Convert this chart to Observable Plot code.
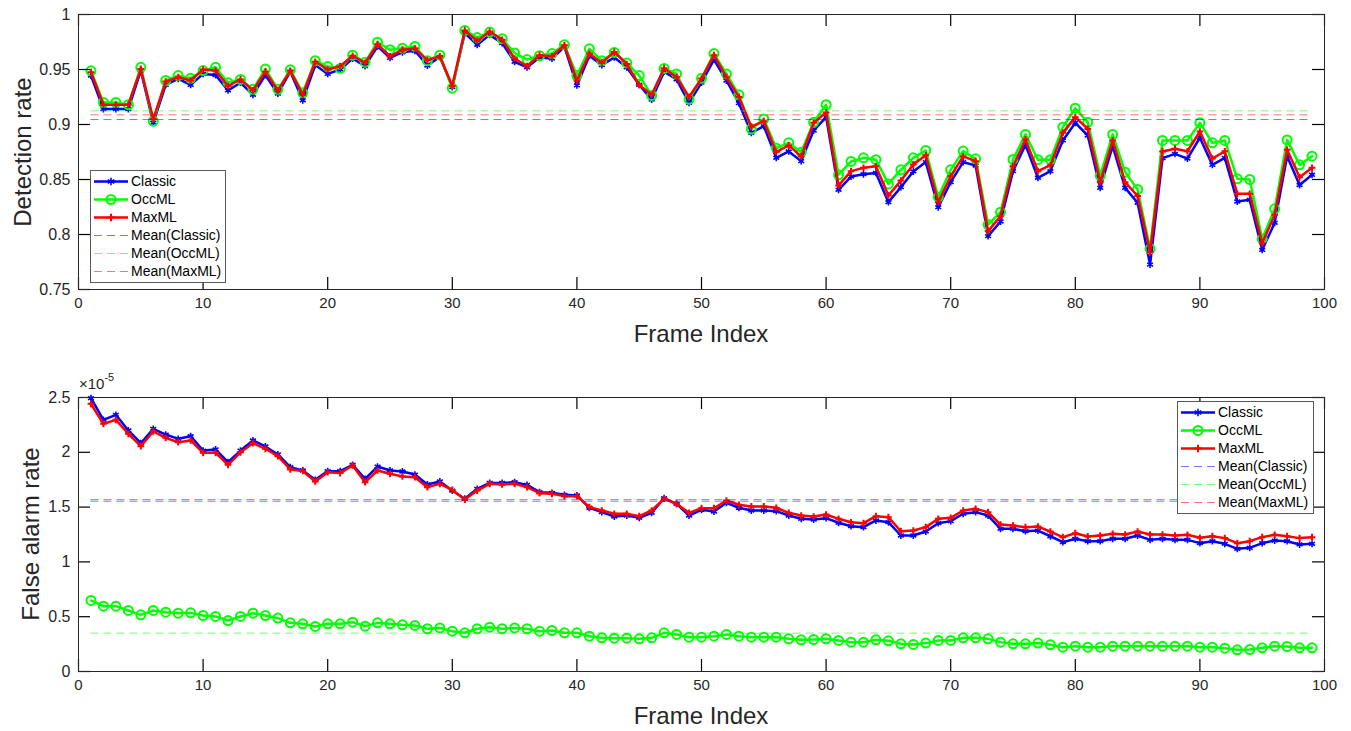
<!DOCTYPE html>
<html>
<head>
<meta charset="utf-8">
<script src="https://cdn.jsdelivr.net/npm/d3@7"></script>
<script src="https://cdn.jsdelivr.net/npm/@observablehq/plot@0.6"></script>
<style>
  body { margin: 0; background: #fff; }
  #wrap { position: relative; width: 1351px; height: 731px; font-family: "Liberation Sans", Arial, sans-serif; color: #262626; }
  .ttl { font-size: 24px; white-space: nowrap; }
</style>
</head>
<body>
<div id="wrap"></div>
<script>
// ---------- data ----------
const frames = d3.range(1, 100);
const xTicks = [0, 10, 20, 30, 40, 50, 60, 70, 80, 90, 100];
const detTicks = [0.75, 0.8, 0.85, 0.9, 0.95, 1];
const faTicks = [0, 0.5, 1, 1.5, 2, 2.5];
const seriesNames = ["Classic", "OccML", "MaxML"];
const meanNames = ["Mean(Classic)", "Mean(OccML)", "Mean(MaxML)"];

const detClassic = [0.9445,0.914,0.914,0.914,0.949,0.9015,0.936,0.9415,0.936,0.946,0.945,0.931,0.938,0.927,0.945,0.928,0.948,0.922,0.954,0.946,0.950,0.960,0.953,0.971,0.9605,0.9657,0.967,0.9536,0.9615,0.934,0.983,0.9724,0.9815,0.974,0.957,0.952,0.961,0.960,0.9705,0.9355,0.9625,0.954,0.961,0.952,0.936,0.9227,0.948,0.941,0.9197,0.938,0.959,0.940,0.9194,0.8924,0.8985,0.8697,0.8755,0.8667,0.8945,0.9067,0.8406,0.8527,0.8548,0.856,0.8294,0.843,0.8573,0.8658,0.8248,0.8476,0.8658,0.8627,0.7985,0.8118,0.8576,0.8815,0.8515,0.8576,0.8855,0.9015,0.890,0.8424,0.8803,0.8424,0.8288,0.7727,0.8694,0.8733,0.869,0.888,0.8633,0.8697,0.830,0.8315,0.786,0.8106,0.8712,0.845,0.8543];
const detOcc = [0.9488,0.920,0.920,0.918,0.952,0.903,0.940,0.9445,0.942,0.949,0.952,0.938,0.941,0.932,0.9505,0.932,0.9497,0.9288,0.958,0.9527,0.951,0.963,0.9567,0.9748,0.968,0.9694,0.971,0.958,0.963,0.933,0.9855,0.979,0.984,0.978,0.965,0.959,0.9625,0.9645,0.9724,0.9445,0.9688,0.958,0.9655,0.956,0.9445,0.9264,0.951,0.946,0.923,0.942,0.9645,0.946,0.927,0.896,0.905,0.8785,0.8833,0.8748,0.902,0.918,0.8543,0.8664,0.8697,0.868,0.846,0.8588,0.8697,0.8764,0.834,0.8588,0.8758,0.8688,0.809,0.8203,0.8682,0.891,0.868,0.868,0.8976,0.9148,0.902,0.8536,0.891,0.8567,0.841,0.787,0.8855,0.8855,0.8855,0.9015,0.8833,0.8855,0.8506,0.850,0.796,0.8233,0.886,0.8633,0.8712];
const detMax = [0.9476,0.918,0.918,0.918,0.9505,0.905,0.939,0.943,0.940,0.950,0.949,0.935,0.941,0.931,0.948,0.931,0.9488,0.927,0.957,0.950,0.953,0.9625,0.956,0.973,0.962,0.968,0.969,0.9585,0.962,0.935,0.9855,0.976,0.9845,0.977,0.960,0.953,0.963,0.962,0.972,0.940,0.9645,0.956,0.966,0.955,0.936,0.927,0.9512,0.943,0.925,0.9418,0.963,0.943,0.925,0.898,0.903,0.875,0.881,0.871,0.9015,0.911,0.8445,0.8576,0.8606,0.862,0.8355,0.849,0.8636,0.872,0.8294,0.853,0.871,0.8667,0.803,0.8167,0.862,0.8864,0.8576,0.863,0.8924,0.9067,0.896,0.8476,0.8855,0.8476,0.835,0.784,0.8755,0.878,0.8757,0.8936,0.869,0.8757,0.837,0.837,0.792,0.818,0.877,0.852,0.8606];
const detMeans = [0.9045, 0.9124, 0.9088];

// false alarm rate, in units of 1e-5
const faClassic = [2.494,2.296,2.342,2.199,2.083,2.214,2.162,2.123,2.147,2.016,2.026,1.91,2.016,2.108,2.053,1.98,1.864,1.834,1.749,1.828,1.828,1.886,1.758,1.87,1.834,1.825,1.797,1.706,1.734,1.651,1.576,1.667,1.721,1.721,1.727,1.703,1.636,1.63,1.612,1.606,1.494,1.454,1.414,1.423,1.402,1.448,1.581,1.53,1.423,1.475,1.46,1.539,1.494,1.469,1.469,1.463,1.423,1.393,1.387,1.399,1.357,1.326,1.317,1.378,1.362,1.241,1.241,1.277,1.353,1.372,1.439,1.454,1.423,1.302,1.302,1.28,1.286,1.234,1.18,1.211,1.189,1.189,1.211,1.211,1.241,1.201,1.211,1.201,1.201,1.171,1.189,1.165,1.119,1.128,1.171,1.195,1.189,1.159,1.165];
const faOcc = [0.648,0.596,0.596,0.557,0.517,0.557,0.541,0.532,0.535,0.511,0.502,0.465,0.502,0.532,0.511,0.487,0.444,0.435,0.411,0.435,0.435,0.45,0.414,0.444,0.435,0.426,0.42,0.39,0.398,0.368,0.353,0.39,0.404,0.39,0.398,0.39,0.368,0.374,0.353,0.353,0.322,0.307,0.304,0.304,0.298,0.307,0.353,0.338,0.313,0.313,0.322,0.338,0.322,0.313,0.313,0.313,0.298,0.289,0.292,0.298,0.283,0.268,0.268,0.289,0.28,0.253,0.247,0.259,0.283,0.283,0.307,0.307,0.298,0.268,0.253,0.253,0.259,0.244,0.222,0.231,0.222,0.222,0.231,0.231,0.231,0.231,0.231,0.231,0.231,0.222,0.222,0.213,0.198,0.2,0.216,0.231,0.228,0.216,0.216];
const faMax = [2.442,2.26,2.296,2.169,2.056,2.19,2.132,2.092,2.108,1.995,1.995,1.886,2.0,2.083,2.032,1.965,1.843,1.83,1.734,1.818,1.81,1.88,1.727,1.834,1.804,1.779,1.773,1.682,1.712,1.657,1.569,1.651,1.712,1.706,1.712,1.682,1.627,1.621,1.6,1.6,1.5,1.469,1.439,1.439,1.417,1.469,1.576,1.53,1.448,1.49,1.49,1.56,1.521,1.506,1.506,1.494,1.448,1.423,1.414,1.432,1.393,1.362,1.353,1.417,1.408,1.28,1.286,1.317,1.393,1.402,1.469,1.484,1.454,1.341,1.332,1.317,1.323,1.277,1.226,1.262,1.232,1.241,1.256,1.25,1.277,1.25,1.25,1.241,1.247,1.22,1.235,1.217,1.171,1.189,1.226,1.247,1.235,1.217,1.226];
const faMeans = [1.554, 0.35, 1.569];

// ---------- styles ----------
const colors = ["#0000ff", "#00ff00", "#ff0000"];
const symbols = ["asterisk", "circle", "plus"];
const dotR = [3.2, 4.5, 2.3];
const dotW = [1.6, 2, 2];
const AX = "#262626";
const FONT = "'Liberation Sans', Arial, sans-serif";
const TICK = 12;
const xDomain = [0, 100];

function panel({series, means, yDomain, yTicks, height, marginTop, marginBottom}) {
  const marginLeft = 78, marginRight = 27, width = 1351;
  const plotH = height - marginTop - marginBottom;
  const plotW = width - marginLeft - marginRight;
  // tick length expressed in data units so that the inward ticks are exactly TICK px
  const dyU = (yDomain[1] - yDomain[0]) * TICK / plotH;
  const dxU = (xDomain[1] - xDomain[0]) * TICK / plotW;
  const rows = frames.map((f, i) => ({frame: f, v0: series[0][i], v1: series[1][i], v2: series[2][i]}));
  const marks = [];
  series.forEach((s, k) => {
    marks.push(Plot.line(rows, {x: "frame", y: "v" + k, stroke: colors[k], strokeWidth: 2.5}));
    marks.push(Plot.dot(rows, {x: "frame", y: "v" + k, stroke: colors[k], fill: "none", symbol: symbols[k], r: dotR[k], strokeWidth: dotW[k]}));
  });
  means.forEach((m, k) => {
    marks.push(Plot.ruleY([m], {y: d => d, x1: frames[0], x2: frames[frames.length - 1], stroke: colors[k], strokeOpacity: 0.55, strokeWidth: 1, strokeDasharray: "8,5"}));
  });
  return Plot.plot({
    width, height, marginLeft, marginRight, marginTop, marginBottom,
    style: {fontFamily: FONT, fontSize: "16px", color: AX, background: "transparent", overflow: "visible"},
    x: {domain: xDomain},
    y: {domain: yDomain},
    marks: [
      ...marks,
      // inward ticks (MATLAB box style)
      Plot.ruleX(xTicks, {x: d => d, y1: yDomain[0], y2: yDomain[0] + dyU, stroke: "#000", strokeWidth: 1.2}),
      Plot.ruleX(xTicks, {x: d => d, y1: yDomain[1] - dyU, y2: yDomain[1], stroke: "#000", strokeWidth: 1.2}),
      Plot.ruleY(yTicks, {y: d => d, x1: xDomain[0], x2: xDomain[0] + dxU, stroke: "#000", strokeWidth: 1.2}),
      Plot.ruleY(yTicks, {y: d => d, x1: xDomain[1] - dxU, x2: xDomain[1], stroke: "#000", strokeWidth: 1.2}),
      Plot.frame({stroke: AX, strokeWidth: 1}),
      Plot.axisX(xTicks, {anchor: "bottom", tickSize: 0, tickPadding: 8, label: null, tickFormat: d => String(d), fontSize: 15, fill: AX}),
      Plot.axisY(yTicks, {anchor: "left", tickSize: 0, tickPadding: 8, label: null, tickFormat: d => String(+d.toFixed(2)), fontSize: 16, fill: AX})
    ]
  });
}

const wrap = document.getElementById("wrap");

function place(el, left, topPx) {
  el.style.position = "absolute";
  el.style.left = left + "px";
  el.style.top = topPx + "px";
  wrap.appendChild(el);
  return el;
}

const topPanel = panel({series: [detClassic, detOcc, detMax], means: detMeans, yDomain: [0.75, 1], yTicks: detTicks, height: 365, marginTop: 14, marginBottom: 76});
place(topPanel, 0, 0);
const botPanel = panel({series: [faClassic, faOcc, faMax], means: faMeans, yDomain: [0, 2.5], yTicks: faTicks, height: 366, marginTop: 32, marginBottom: 60});
place(botPanel, 0, 365);

// axis titles
function title(text, left, topPx, rotate) {
  const d = document.createElement("div");
  d.className = "ttl";
  d.textContent = text;
  place(d, left, topPx);
  d.style.transform = rotate ? "translate(-50%,-50%) rotate(-90deg)" : "translate(-50%,-50%)";
}
title("Frame Index", 701, 334, false);
title("Frame Index", 701, 716, false);
title("Detection rate", 23, 152, true);
title("False alarm rate", 31, 534, true);

// exponent
const ex = document.createElement("div");
ex.innerHTML = '×10<sup style="font-size:11px;position:relative;top:-2px">-5</sup>';
ex.style.fontSize = "15px";
ex.style.whiteSpace = "nowrap";
place(ex, 79, 373);

// legends
function legend(left, topPx, w, h) {
  const svg = d3.create("svg").attr("width", w + 2).attr("height", h + 2)
    .style("font-family", FONT).style("font-size", "14px");
  svg.append("rect").attr("x", 0.5).attr("y", 0.5).attr("width", w).attr("height", h)
    .attr("fill", "#fff").attr("stroke", "#595959").attr("stroke-width", 1);
  const all = seriesNames.map((n, k) => ({n, k, mean: false})).concat(meanNames.map((n, k) => ({n, k, mean: true})));
  all.forEach((e, i) => {
    const y = 11.5 + i * 18;
    const g = svg.append("g");
    g.append("line").attr("x1", 4).attr("x2", 38).attr("y1", y).attr("y2", y)
      .attr("stroke", colors[e.k])
      .attr("stroke-width", e.mean ? 1 : 2.5)
      .attr("stroke-opacity", e.mean ? 0.55 : 1)
      .attr("stroke-dasharray", e.mean ? "8,5" : null);
    if (!e.mean) {
      const r = dotR[e.k];
      const s = symbols[e.k];
      const path = s === "circle" ? d3.symbol(d3.symbolCircle, Math.PI * r * r)() :
                   s === "asterisk" ? d3.symbol(d3.symbolAsterisk, (r * r) * 4)() :
                   d3.symbol(d3.symbolPlus, (r * r) * 4)();
      g.append("path").attr("d", path).attr("transform", `translate(21,${y})`)
        .attr("fill", "none").attr("stroke", colors[e.k]).attr("stroke-width", dotW[e.k]);
    }
    g.append("text").attr("x", 41).attr("y", y).attr("dy", "0.35em").attr("fill", "#000").text(e.n);
  });
  place(svg.node(), left, topPx);
}
legend(90, 170, 135, 112);
legend(1177, 401, 136, 112);
</script>
</body>
</html>
